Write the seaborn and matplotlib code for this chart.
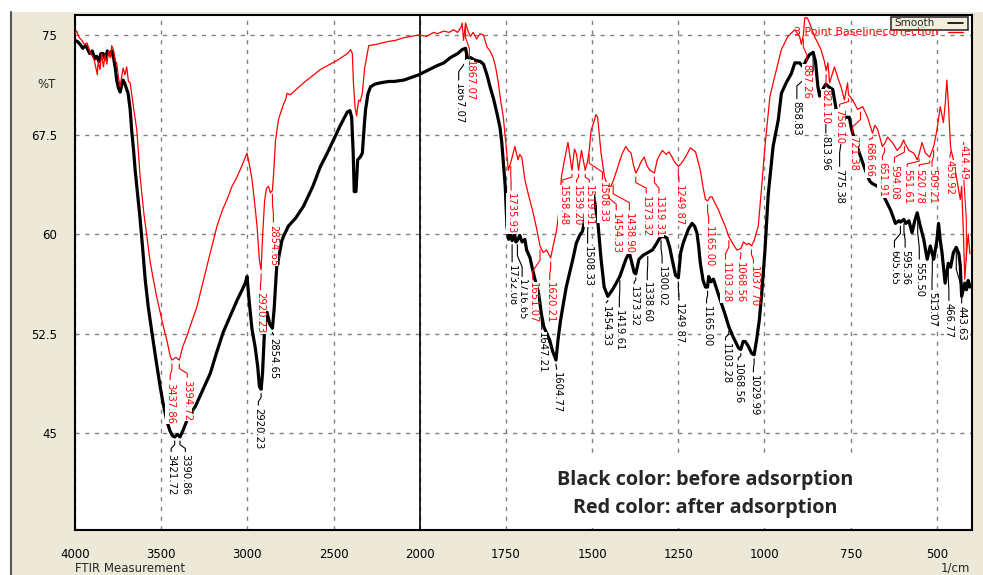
import numpy as np
import pandas as pd
import matplotlib
matplotlib.use("Agg")
import matplotlib.pyplot as plt
import matplotlib.transforms as mtransforms
from matplotlib.patches import Rectangle
from matplotlib.lines import Line2D
from matplotlib.ticker import FixedLocator, MultipleLocator
import seaborn as sns

# ---------------- data ----------------
black_wn = [4000, 3985, 3970, 3955, 3940, 3932, 3915, 3900, 3885, 3874, 3860, 3850, 3837, 3825,
            3812, 3800, 3787, 3775, 3765, 3758, 3748, 3738, 3730, 3721, 3710, 3700, 3692, 3680,
            3671, 3660, 3651, 3637, 3622, 3608, 3593, 3575, 3554, 3530, 3506, 3490, 3467, 3450,
            3435, 3421.72, 3405, 3390.86, 3370, 3343, 3302, 3260, 3215, 3180, 3140, 3100, 3060,
            3030, 3012, 3002, 2990, 2973, 2955, 2940, 2930, 2920.23, 2912, 2901, 2886, 2870,
            2854.65, 2845, 2830, 2820, 2800, 2791, 2762, 2720, 2674, 2620, 2576, 2540, 2500, 2460,
            2420, 2405, 2395, 2386, 2380, 2370, 2360, 2345, 2333, 2320, 2314, 2300, 2285, 2260,
            2227, 2180, 2150, 2093, 2050, 2006, 1980, 1949, 1930, 1911, 1890, 1877, 1867.07, 1862,
            1853, 1840, 1824, 1815, 1805, 1796, 1786, 1776, 1767, 1762, 1752, 1747, 1742, 1737,
            1732.08, 1725, 1721, 1716.65, 1710, 1703, 1695, 1690, 1680, 1675, 1666, 1655, 1647.21,
            1640, 1630, 1623, 1615, 1604.77, 1599, 1592, 1585, 1575, 1565, 1555, 1546, 1536, 1528,
            1518, 1508.33, 1503, 1495, 1484, 1474, 1465, 1454.33, 1441, 1430, 1419.61, 1410, 1402,
            1392, 1378, 1373.32, 1364, 1352, 1338.60, 1325, 1315, 1306, 1300.02, 1290, 1283, 1275,
            1268, 1258, 1249.87, 1243, 1236, 1229, 1220, 1210, 1203, 1196, 1191, 1186, 1178, 1171,
            1165.00, 1162, 1155, 1148, 1138, 1128, 1115, 1103.28, 1090, 1075, 1068.56, 1062, 1056,
            1048, 1037, 1029.99, 1023, 1015, 1008, 999, 989, 980, 975, 960, 951, 937, 922, 912, 898,
            888, 879, 870, 858.83, 852, 845, 840, 831, 822, 813.96, 802, 792, 783, 775.38, 768, 754,
            748, 744, 735, 730, 710, 695, 687, 672, 653, 634, 620, 610, 605.65, 596, 590, 581, 572,
            564, 557, 548, 538, 528, 519, 513.07, 509, 500, 495, 490, 485, 476, 466.77, 460, 452,
            443.63, 436, 432, 428, 419, 414, 409, 404]
black_t = [74.6, 74.5, 74.3, 74.0, 74.2, 74.1, 73.6, 73.8, 73.2, 73.4, 73.0, 73.6, 73.6, 73.2,
           73.8, 73.5, 73.8, 73.2, 72.4, 71.6, 71.0, 70.7, 71.2, 71.6, 71.3, 70.9, 70.6, 69.4,
           67.8, 66.3, 64.8, 63.0, 61.1, 59.0, 56.6, 54.5, 52.6, 50.5, 48.5, 47.3, 45.9, 45.2,
           44.8, 44.7, 44.9, 44.7, 45.3, 46.2, 47.0, 48.2, 49.5, 51.0, 52.6, 53.8, 55.0,
           55.8, 56.3, 56.8, 55.0, 52.8, 51.5, 50.0, 48.5, 48.3, 49.5, 52.6, 54.1, 53.2,
           52.9, 54.3, 57.5, 58.1, 59.5, 59.8, 60.6, 61.2, 62.1, 63.6, 65.1, 66.0, 67.1, 68.2,
           69.2, 69.3, 68.8, 66.1, 63.2, 63.2, 65.6, 65.8, 66.1, 68.5, 69.4, 70.6, 71.1, 71.3,
           71.4, 71.5, 71.5, 71.6, 71.8, 72.0, 72.3, 72.7, 72.9, 73.3, 73.6, 73.9, 74.0, 73.3,
           73.3, 73.1, 73.0, 72.8, 72.0, 71.1, 70.2, 69.1, 68.0, 66.9, 63.6, 60.6, 59.6, 60.0,
           59.5, 60.0, 59.4, 59.5, 59.9, 59.4, 59.6, 58.8, 58.2, 57.6, 56.6, 55.5, 54.0,
           53.0, 52.4, 52.0, 51.2, 50.5, 52.0, 53.4, 54.5, 56.0, 57.1, 58.2, 59.3, 59.9, 60.2,
           61.5, 62.8, 63.3, 62.8, 61.1, 58.1, 56.0, 55.3, 55.8, 56.3, 56.8, 57.5, 58.1,
           58.6, 57.1, 57.0, 58.1, 58.4, 58.6, 58.8, 59.2, 59.6, 59.8, 59.8, 59.7, 59.0,
           58.1, 56.9, 56.7, 58.6, 59.3, 59.8, 60.4, 60.8, 60.6, 60.1, 59.1, 57.8, 56.5, 56.0,
           56.0, 56.8, 56.4, 56.6, 55.8, 55.0, 54.0, 53.0, 52.2, 51.4, 51.3, 51.9, 51.9,
           51.6, 51.0, 50.9, 52.0, 53.5, 55.5, 58.6, 63.0, 65.3, 66.6, 68.6, 70.6, 71.4, 72.1, 72.9, 72.9,
           72.6, 73.1, 73.5, 73.7, 73.0, 71.1, 70.4, 70.9, 71.3, 71.1, 70.9, 69.4, 69.1, 68.8, 68.8, 68.8,
           68.0, 67.6, 66.8, 66.5, 65.0, 64.0, 63.8, 63.6, 62.8, 61.8, 60.8, 61.0, 60.9, 61.1, 60.8, 61.0, 60.1,
           61.0, 61.6, 60.6, 59.6, 58.1, 59.1, 58.5, 58.1, 59.5, 60.8, 59.5, 58.6, 56.3, 57.8, 57.5, 58.6,
           59.0, 58.5, 57.6, 55.3, 56.3, 55.8, 56.5, 56.0]

red_wn = [4000, 3990, 3975, 3960, 3945, 3930, 3915, 3903, 3890, 3880, 3870, 3866, 3855, 3845, 3835,
          3825, 3815, 3805, 3795, 3787, 3775, 3765, 3758, 3748, 3738, 3730, 3721, 3710, 3700, 3690,
          3680, 3660, 3641, 3622, 3600, 3583, 3565, 3546, 3525, 3506, 3485, 3467, 3448, 3437.86,
          3415, 3394.72, 3375, 3351, 3320, 3293, 3255, 3215, 3176, 3145, 3118, 3089, 3060, 3030,
          3002, 2985, 2973, 2955, 2944, 2930, 2920.23, 2912, 2900, 2890, 2878, 2866, 2854.65, 2848,
          2837, 2820, 2808, 2790, 2779, 2770, 2750, 2674, 2576, 2478, 2420, 2401, 2391, 2385, 2375,
          2366, 2360, 2354, 2345, 2333, 2320, 2314, 2296, 2250, 2188, 2140, 2093, 2050, 2006, 1980,
          1960, 1949, 1930, 1915, 1902, 1890, 1880, 1877, 1873, 1867.07, 1860, 1853, 1845, 1835,
          1825, 1815, 1805, 1796, 1787, 1780, 1772, 1765, 1758, 1750, 1743, 1735.93, 1724, 1715,
          1710, 1704, 1695, 1685, 1671, 1660, 1651.07, 1642, 1632, 1620.21, 1613, 1603, 1595, 1589,
          1580, 1570, 1565, 1558.48, 1551, 1545, 1539.20, 1531, 1525, 1519.91, 1513, 1508.33, 1503,
          1493, 1489, 1484, 1474, 1464, 1454.33, 1445, 1438.90, 1431, 1420, 1412, 1402, 1395, 1387,
          1380, 1373.32, 1365, 1359, 1349, 1340, 1332, 1319.31, 1311, 1303, 1296, 1285, 1277, 1268,
          1260, 1249.87, 1242, 1234, 1225, 1215, 1200, 1193, 1186, 1178, 1171, 1165.00, 1158, 1152,
          1143, 1133, 1124, 1114, 1103.28, 1090, 1080, 1068.56, 1061, 1052, 1045, 1037.70, 1030,
          1018, 1008, 999, 990, 984, 970, 951, 932, 912, 898, 893, 887.26, 883, 876, 869, 855, 836,
          826, 821.10, 816, 811, 797, 785, 778, 768, 759, 756.10, 744, 730, 721.38, 715, 701, 686.66,
          680, 672, 658, 651.91, 643, 629, 615, 605, 596, 594.08, 581, 567, 557, 551.61, 543, 533,
          520.78, 515, 509.21, 500, 490, 481, 475, 471, 466, 461, 459.92, 452, 442, 432, 428, 423,
          419, 414.49, 409, 404]
red_t = [75.1, 75.3, 74.8, 74.6, 74.3, 74.4, 73.8, 73.5, 73.2, 72.6, 72.0, 73.0, 72.4, 73.6, 72.6,
         73.5, 72.8, 73.8, 73.3, 74.2, 73.8, 73.0, 72.9, 71.8, 71.1, 71.8, 72.5, 72.0, 72.6, 71.5,
         71.4, 69.5, 67.8, 64.3, 61.5, 59.8, 58.0, 56.6, 55.2, 54.1, 52.9, 52.0, 50.8, 50.5,
         50.7, 50.5, 51.5, 52.3, 53.5, 54.5, 56.5, 58.6, 60.6, 61.8, 62.6, 63.6, 64.3, 65.2,
         66.1, 65.0, 64.1, 62.0, 60.6, 58.0, 57.3, 59.8, 62.5, 63.4, 63.6, 63.1, 63.3, 64.5,
         67.0, 68.6, 69.1, 69.8, 70.1, 70.6, 70.5, 71.4, 72.4, 73.1, 73.6, 73.9, 73.6, 71.5, 69.5,
         68.9, 69.6, 70.1, 70.0, 70.6, 72.5, 72.9, 74.2, 74.3, 74.5, 74.6, 74.8, 74.9, 75.0, 74.9,
         75.2, 75.1, 75.3, 75.2, 75.4, 75.2, 75.6, 75.9, 74.6, 75.9, 75.3, 74.9, 75.2, 74.7,
         75.1, 75.0, 74.1, 73.8, 73.3, 72.6, 71.4, 70.0, 68.9, 66.8, 64.8, 65.4, 66.6, 65.6,
         66.0, 65.8, 64.1, 63.0, 61.6, 60.3, 59.1, 58.6, 58.8, 58.2, 59.1, 60.3, 62.0, 64.3,
         65.6, 66.9, 66.0, 64.8, 66.4, 66.0, 64.8, 66.3, 65.5, 64.8, 65.5, 66.3, 67.8,
         68.6, 69.0, 68.8, 66.1, 64.3, 63.6, 63.6, 64.0, 64.6, 65.5, 66.1, 66.6, 66.3, 66.1,
         65.2, 64.6, 65.0, 65.4, 65.8, 65.1, 64.8, 64.6, 65.6, 66.0, 66.3, 66.0, 66.2, 65.8,
         65.4, 65.1, 65.3, 65.6, 66.0, 66.5, 66.2, 65.5, 64.8, 63.5, 62.6, 62.5, 62.8, 62.8,
         62.3, 61.8, 61.2, 60.6, 59.8, 59.2, 58.8, 58.9, 59.4, 59.2, 59.3, 59.1, 59.5,
         60.6, 63.6, 66.5, 68.8, 70.4, 71.9, 73.9, 74.9, 75.4, 74.9, 74.3, 75.0, 76.3, 76.3, 75.9, 74.9, 73.9,
         73.0, 72.3, 72.9, 71.4, 72.6, 71.6, 71.1, 70.1, 71.4, 70.5, 70.1, 69.4, 69.5, 69.6, 68.8, 67.6,
         68.2, 67.9, 66.6, 66.8, 67.3, 66.9, 66.3, 66.6, 67.1, 66.9, 66.3, 66.1, 65.6, 66.0, 66.9, 66.1,
         65.8, 66.2, 66.6, 67.8, 69.6, 68.4, 70.0, 71.6, 69.6, 66.9, 66.5, 65.6, 64.1, 62.6, 63.6, 60.1,
         56.6, 58.3, 60.0, 58.5]

# peak labels (values) and where their texts sit (wavenumber, %T of text top)
black_peaks = ["3421.72", "3390.86", "2920.23", "2854.65", "1867.07", "1732.08", "1716.65",
               "1647.21", "1604.77", "1508.33", "1454.33", "1419.61", "1373.32", "1338.60",
               "1300.02", "1249.87", "1165.00", "1103.28", "1068.56", "1029.99", "858.83",
               "813.96", "775.38", "605.65", "595.36", "555.50", "513.07", "466.77", "443.63"]
black_label_pos = [(3442, 43.6), (3360, 43.6), (2936, 47.1), (2849, 52.4), (1887, 71.6),
                   (1732, 57.9), (1703, 56.8), (1646, 52.8), (1603, 49.8), (1513, 59.3),
                   (1459, 54.8), (1421, 54.5), (1378, 56.25), (1340, 56.55), (1297, 57.8),
                   (1248, 55.0), (1168, 54.8), (1113, 52.0), (1076, 50.5), (1032, 49.6),
                   (906, 70.2), (822, 67.6), (782, 65.1), (623, 59.0), (592, 59.0),
                   (551, 58.1), (514, 55.8), (465, 55.0), (428, 54.8)]

red_peaks = ["3437.86", "3394.72", "2920.23", "2854.65", "1867.07", "1735.93", "1651.07",
             "1620.21", "1558.48", "1539.20", "1519.91", "1508.33", "1454.33", "1438.90",
             "1373.32", "1319.31", "1249.87", "1165.00", "1103.28", "1068.56", "1037.70",
             "887.26", "821.10", "756.10", "721.38", "686.66", "651.91", "594.08", "551.61",
             "520.78", "509.21", "459.92", "414.49"]
red_label_pos = [(3448, 49.0), (3349, 49.2), (2924, 55.8), (2849, 60.9), (1856, 73.3),
                 (1735, 63.3), (1672, 56.55), (1623, 56.55), (1585, 63.9), (1545, 63.9),
                 (1508, 63.9), (1470, 64.1), (1430, 61.8), (1392, 61.8), (1343, 63.1),
                 (1306, 63.1), (1248, 63.9), (1162, 60.8), (1113, 58.1), (1070, 58.1),
                 (1032, 57.8), (877, 73.0), (822, 71.1), (782, 69.6), (744, 67.6),
                 (695, 67.1), (658, 65.6), (623, 65.4), (586, 65.1), (551, 65.1),
                 (514, 65.1), (462, 65.8), (422, 66.9)]

x_major = [4000, 3500, 3000, 2500, 2000, 1750, 1500, 1250, 1000, 750, 500]
y_major = [45, 52.5, 60, 67.5, 75]

# ---------------- style ----------------
sns.set_style("white")
plt.rcParams["font.family"] = ["DejaVu Sans"]

BEIGE = "#ECE9D8"
W, H = 983, 575
fig = plt.figure(figsize=(W / 100, H / 100), dpi=100, facecolor="white")
fig.patches.append(Rectangle((11 / W, 0), 1 - 11 / W, (H - 12) / H, transform=fig.transFigure,
                             fc=BEIGE, ec="none", zorder=-10))
fig.lines.append(Line2D([11 / W, 11 / W], [0, (H - 12) / H], transform=fig.transFigure,
                        color="#555555", lw=1.5))

ax = fig.add_axes([75 / W, 45 / H, 897 / W, 515 / H])
ax.set_facecolor("white")


def fwd(x):
    x = np.asarray(x, dtype=float)
    return np.where(x >= 2000, x / 2 + 1000, x)


def inv(u):
    u = np.asarray(u, dtype=float)
    return np.where(u >= 2000, (u - 1000) * 2, u)


ax.set_xscale("function", functions=(fwd, inv))

df_black = pd.DataFrame({"wn": black_wn, "T": black_t})
df_red = pd.DataFrame({"wn": red_wn, "T": red_t})
sns.lineplot(data=df_black, x="wn", y="T", ax=ax, color="black", lw=2.3,
             estimator=None, sort=False, zorder=3)
sns.lineplot(data=df_red, x="wn", y="T", ax=ax, color="#FF0000", lw=0.9,
             estimator=None, sort=False, zorder=4)

ax.set_xlim(4000, 398)
ax.set_ylim(37.69, 76.51)
ax.set_xlabel("")
ax.set_ylabel("")

ax.xaxis.set_major_locator(FixedLocator(x_major))
ax.xaxis.set_minor_locator(FixedLocator(list(range(3900, 2000, -100)) + list(range(1950, 399, -50))))
ax.yaxis.set_major_locator(FixedLocator(y_major))
ax.yaxis.set_minor_locator(MultipleLocator(1.5))
ax.set_xticklabels([str(v) for v in x_major])
ax.set_yticklabels(["45", "52.5", "60", "67.5", "75"])
ax.tick_params(axis="y", which="major", length=11.5, width=1, pad=1.5, labelsize=8.5, colors="black")
ax.tick_params(axis="y", which="minor", length=5, width=1)
ax.tick_params(axis="x", which="major", length=6, width=1, pad=7, labelsize=8.5, colors="black")
ax.tick_params(axis="x", which="minor", length=4, width=1)

ax.grid(True, which="major", color="#808080", lw=1, ls=(0, (3, 4)), zorder=0.5)
ax.set_axisbelow(True)
ax.axvline(2000, color="black", lw=1.2, zorder=2)
for s in ax.spines.values():
    s.set_color("black")
    s.set_linewidth(1.5)

# %T label
ax.text(-0.021, 71.25, "%T", transform=mtransforms.blended_transform_factory(ax.transAxes, ax.transData),
        ha="right", va="center", fontsize=8.5)
fig.text(75 / W, (H - 568) / H, "FTIR Measurement", ha="left", va="center", fontsize=8.5)
fig.text(970 / W, (H - 568) / H, "1/cm", ha="right", va="center", fontsize=8.5)


# peak labels
def draw_labels(wn, t, peaks, pos, color):
    xp = np.asarray(wn, float)[::-1]
    yp = np.asarray(t, float)[::-1]
    for s, (lx, lt) in zip(peaks, pos):
        pk = float(s)
        yc = float(np.interp(pk, xp, yp)) - 0.3
        span = yc - lt
        ax.plot([pk, pk, lx, lx], [yc, yc - 0.35 * span, lt + 0.3 * span, lt],
                color=color, lw=0.8, zorder=5)
        ax.text(lx, lt - 0.2, s, rotation=270, ha="center", va="top", fontsize=7.2, color=color,
                bbox=dict(fc="white", ec="none", pad=0.05), zorder=6)


draw_labels(black_wn, black_t, black_peaks, black_label_pos, "black")
draw_labels(red_wn, red_t, red_peaks, red_label_pos, "#FF0000")

# legend box
ax.add_patch(Rectangle((0.910, 0.971), 0.085, 0.026, transform=ax.transAxes, fc="#F2F0DC",
                       ec="#303030", lw=1.2, zorder=7, clip_on=False))
ax.text(0.913, 0.984, "Smooth", transform=ax.transAxes, ha="left", va="center", fontsize=7.5,
        zorder=8)
ax.plot([0.973, 0.990], [0.984, 0.984], transform=ax.transAxes, color="black", lw=1.2, zorder=8)
ax.text(0.962, 0.9665, "3 Point Baselinecorrection", transform=ax.transAxes, ha="right",
        va="center", fontsize=7.9, color="#FF0000", zorder=8)
ax.plot([0.973, 0.990], [0.9665, 0.9665], transform=ax.transAxes, color="#FF0000", lw=1, zorder=8)

# annotation
ax.add_patch(Rectangle((0.518, 0.004), 0.379, 0.146, transform=ax.transAxes, fc="white",
                       ec="none", zorder=7))
ax.text(0.703, 0.097, "Black color: before adsorption", transform=ax.transAxes, ha="center",
        va="center", fontsize=14.2, fontweight="bold", family=["Open Sans", "DejaVu Sans"], zorder=8)
ax.text(0.703, 0.043, "Red color: after adsorption", transform=ax.transAxes, ha="center",
        va="center", fontsize=14.2, fontweight="bold", family=["Open Sans", "DejaVu Sans"], zorder=8)

fig.savefig("out.png", dpi=100, facecolor=fig.get_facecolor())
